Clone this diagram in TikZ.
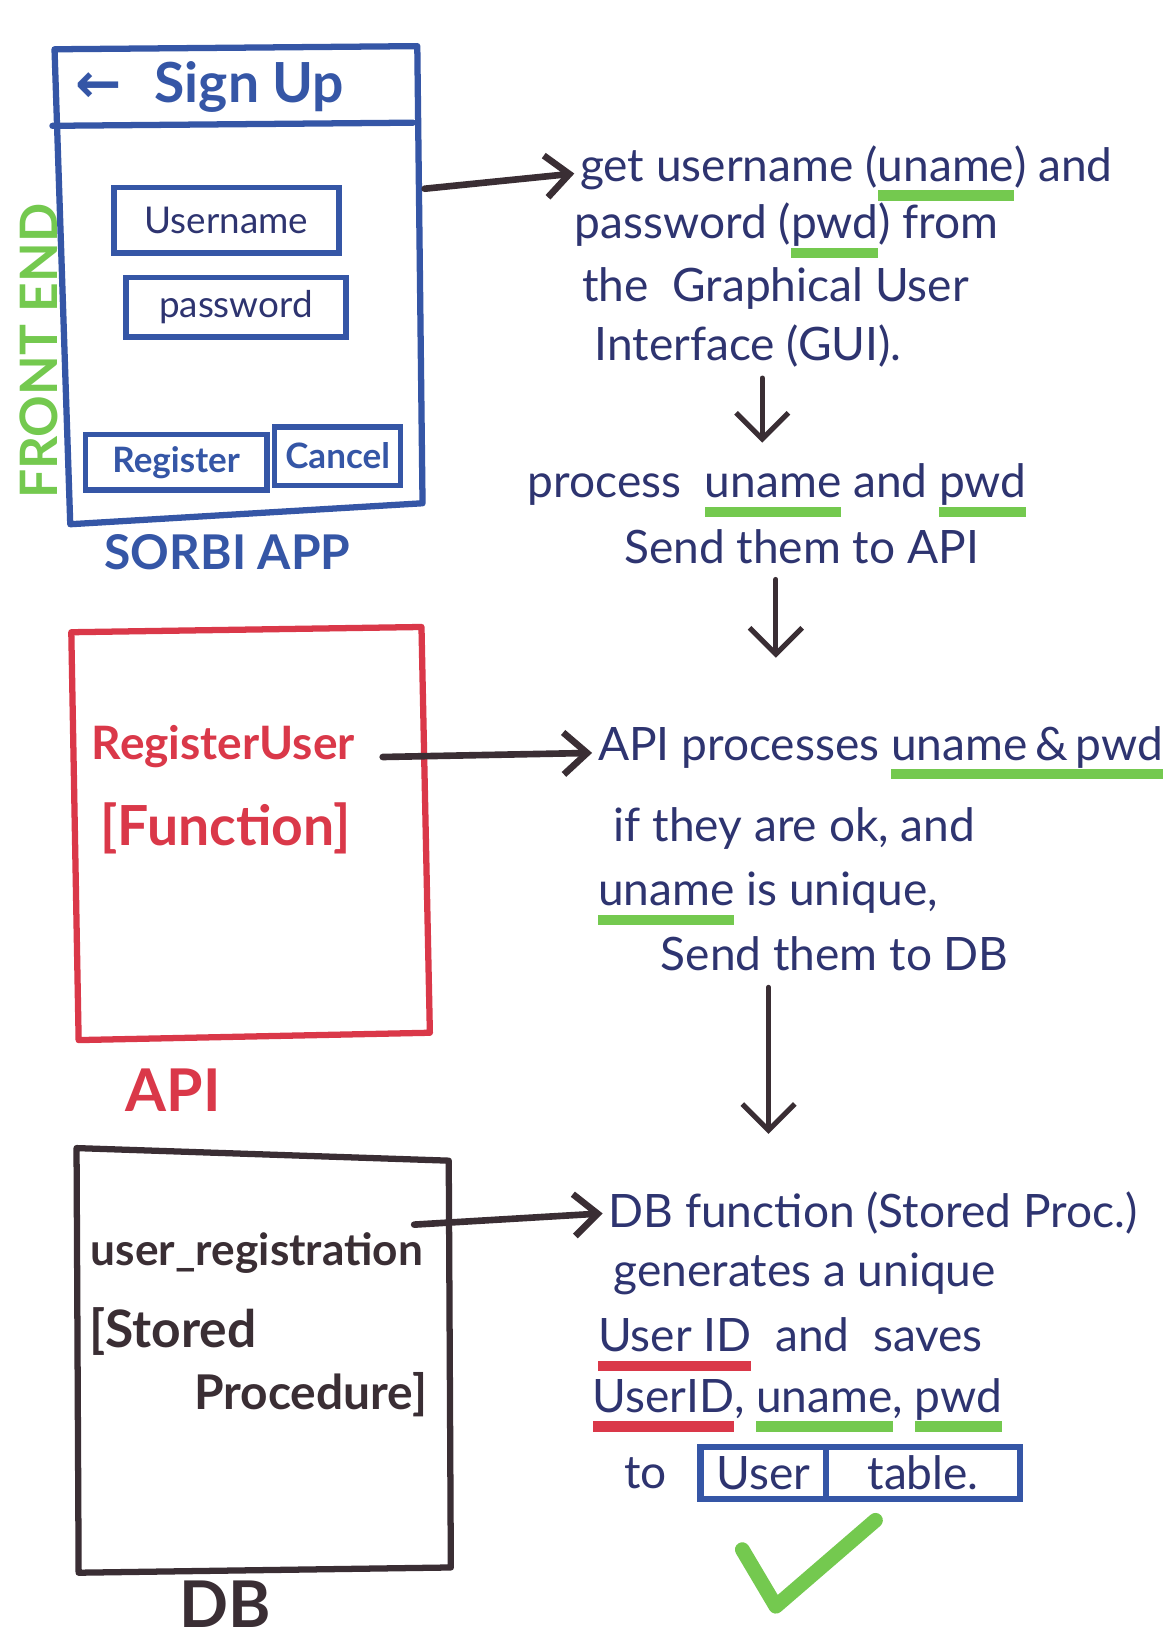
\documentclass[tikz,border=0pt]{standalone}
\usepackage{fontspec}
\setmainfont{Lato}
\newfontfamily\symfont{DejaVu Sans}
\usepackage{xcolor}
\usetikzlibrary{arrows.meta, positioning}
\definecolor{penblue}{HTML}{2E3470}
\definecolor{appblue}{HTML}{3556A6}
\definecolor{apired}{HTML}{DA3849}
\definecolor{markgreen}{HTML}{74C94F}
\definecolor{dbblack}{HTML}{3A2E34}
\newcommand{\markword}[2]{\setbox0=\hbox{#2}\rlap{\color{#1}\rule[-0.42em]{\wd0}{0.22em}}\box0\relax}
\tikzset{
  frame/.style={line width=3.4pt, line join=round, line cap=round},
  field/.style={draw=appblue, line width=3pt, inner sep=0pt, text=penblue, font=\fontsize{20}{24}\selectfont},
  button/.style={draw=appblue, line width=3pt, inner sep=0pt, text=appblue, font=\bfseries\fontsize{19}{23}\selectfont},
  note/.style={anchor=west, inner sep=0pt, text=penblue, font=\fontsize{25}{30}\selectfont},
  cell/.style={draw=appblue, line width=3.4pt, inner sep=0pt, minimum height=1cm, text=penblue, font=\fontsize{25}{30}\selectfont},
  caption/.style={inner sep=0pt, font=\bfseries\fontsize{26}{30}\selectfont},
  flow/.style={draw=dbblack, line width=3.6pt, line cap=round, -{Straight Barb[length=4.5mm,width=8mm]}},
  down/.style={draw=dbblack, line width=2.8pt, line cap=round, -{Straight Barb[length=5mm,width=10mm]}},
}

\begin{document}
\begin{tikzpicture}[x=0.02cm, y=-0.02cm]
\useasboundingbox (0,0) rectangle (1110,1568);
\fill[white] (0,0) rectangle (1110,1568);

% front end
\draw[frame, draw=appblue] (52,47) -- (398,44) -- (403,480) -- (67,500) -- cycle;
\draw[frame, draw=appblue] (50,120) -- (394,117);
\node[caption, text=appblue, font=\bfseries\fontsize{30}{34}\selectfont] (signup) at (200,83) {{\symfont\bfseries ←}\hspace{0.6em}Sign Up};
\node[field, minimum width=4.3cm, minimum height=1.25cm] (unamebox) at (216,210) {Username};
\node[field, minimum width=4.2cm, minimum height=1.14cm] (pwdbox) at (225,293) {password};
\node[button, minimum width=3.46cm, minimum height=1.06cm] (registerbtn) at (168,441) {Register};
\node[button, minimum width=2.4cm, minimum height=1.12cm] (cancelbtn) at (322,435) {Cancel};
\node[caption, text=appblue] (appname) at (217,527) {SORBI APP};
\node[caption, text=markgreen, rotate=90, font=\bfseries\fontsize{28}{32}\selectfont] (frontend) at (37,335) {FRONT END};

% api
\draw[frame, draw=apired] (68,603) -- (402,598) -- (410,985) -- (75,992) -- cycle;
\node[caption, text=apired, font=\bfseries\fontsize{25}{29}\selectfont] (regfn) at (213,712) {RegisterUser};
\node[caption, text=apired, font=\bfseries\fontsize{30}{34}\selectfont] (fnkind) at (215,790) {[Function]};
\node[caption, text=apired, font=\bfseries\fontsize{32}{36}\selectfont] (apiname) at (165,1040) {API};

% db
\draw[frame, draw=dbblack] (73,1095) -- (428,1107) -- (430,1495) -- (75,1500) -- cycle;
\node[caption, text=dbblack, font=\bfseries\fontsize{24}{28}\selectfont] (sproc) at (245,1195) {user\_registration};
\node[caption, text=dbblack, anchor=west, font=\bfseries\fontsize{28}{32}\selectfont] (stored) at (85,1270) {[Stored};
\node[caption, text=dbblack, anchor=west, font=\bfseries\fontsize{26}{30}\selectfont] (procedure) at (185,1330) {Procedure]};
\node[caption, text=dbblack, font=\bfseries\fontsize{35}{40}\selectfont] (dbname) at (215,1530) {DB};

% notes
\node[note] (get1) at (553,165) {get username (\markword{markgreen}{uname}) and};
\node[note] (get2) at (548,220) {password (\markword{markgreen}{pwd}) from};
\node[note] (get3) at (555,275) {the \ Graphical User};
\node[note] (get4) at (567,330) {Interface (GUI).};
\node[note] (proc1) at (503,468) {process \ \markword{markgreen}{uname} and \markword{markgreen}{pwd}};
\node[note] (proc2) at (595,521) {Send them to API};

\node[note] (api1) at (570,718) {API processes \markword{markgreen}{uname\,\&\,pwd}};
\node[note] (api2) at (585,790) {if they are ok, and};
\node[note] (api3) at (570,857) {\markword{markgreen}{uname} is unique,};
\node[note] (api4) at (630,910) {Send them to DB};

\node[note] (db1) at (580,1157) {DB function (Stored Proc.)};
\node[note] (db2) at (585,1215) {generates a unique};
\node[note] (db3) at (570,1282) {\markword{apired}{User ID} \ and \ saves};
\node[note] (db4) at (565,1340) {\markword{apired}{UserID}, \markword{markgreen}{uname}, \markword{markgreen}{pwd}};
\node[note] (db5) at (595,1405) {to};
\node[cell, minimum width=2.4cm] (usercell) at (728,1405) {User};
\node[cell, minimum width=3.7cm] (tablecell) at (880.5,1405) {table.};

% arrows
\coordinate (appout) at (405,180);
\coordinate (apiout) at (365,722);
\coordinate (dbout) at (395,1168);
\coordinate (col1) at (727,0);
\coordinate (col2) at (740,0);
\coordinate (col3) at (733,0);
\draw[flow, shorten >=3pt] (appout) -- (get1.west);
\draw[flow, shorten >=3pt] (apiout) -- (api1.west);
\draw[flow, shorten >=3pt] (dbout) -- (db1.west);
\draw[down, shorten <=0.2cm, shorten >=0.4cm] (get4.south -| col1) -- (proc1.north -| col1);
\draw[down, shorten <=0.3cm, shorten >=1.3cm] (proc2.south -| col2) -- (api1.north -| col2);
\draw[down, shorten <=0.3cm, shorten >=1.1cm] (api4.south -| col3) -- (db1.north -| col3);

% done
\draw[markgreen, line width=8pt, line cap=round, line join=round] (708,1478) -- (740,1532) -- (835,1450);
\end{tikzpicture}
\end{document}
